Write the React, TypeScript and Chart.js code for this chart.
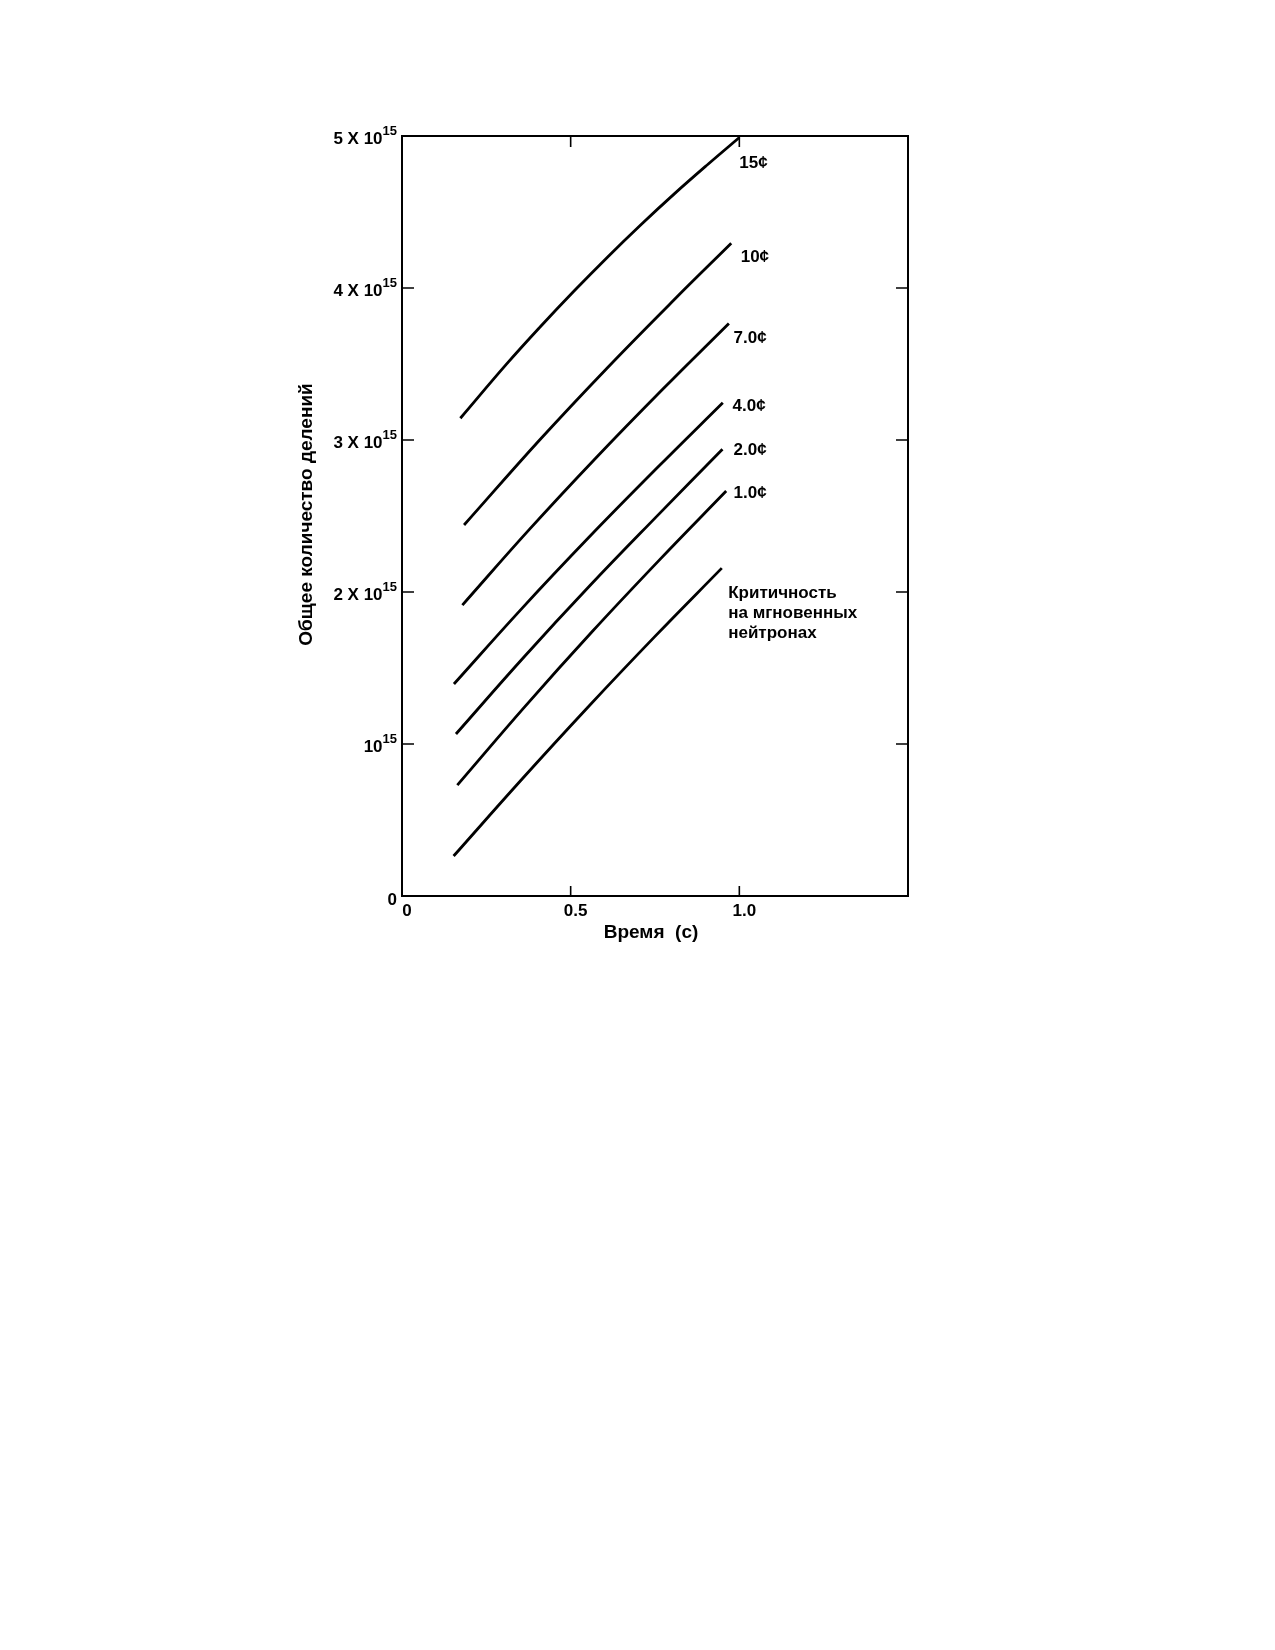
import React, { useEffect, useRef } from "react";
import { Chart, registerables } from "chart.js";

Chart.register(...registerables);

// Time (s) and total fissions (in units of 10^15) for each curve
const TIME_15 = [0.173, 0.311, 0.41, 0.51, 0.609, 0.709, 0.808, 0.908, 1.0];
const FISS_15 = [3.143, 3.502, 3.745, 3.98, 4.203, 4.418, 4.621, 4.816, 4.99];

const TIME_10 = [0.184, 0.408, 0.607, 0.806, 0.976];
const FISS_10 = [2.441, 3.0, 3.471, 3.921, 4.294];

const TIME_7 = [0.179, 0.377, 0.574, 0.772, 0.969];
const FISS_7 = [1.914, 2.41, 2.88, 3.332, 3.767];

const TIME_4 = [0.154, 0.353, 0.552, 0.752, 0.951];
const FISS_4 = [1.395, 1.886, 2.355, 2.807, 3.245];

const TIME_2 = [0.16, 0.359, 0.558, 0.758, 0.95];
const FISS_2 = [1.066, 1.566, 2.044, 2.504, 2.939];

const TIME_1 = [0.164, 0.363, 0.562, 0.762, 0.961];
const FISS_1 = [0.73, 1.243, 1.735, 2.208, 2.664];

const TIME_PROMPT = [0.153, 0.352, 0.551, 0.75, 0.948];
const FISS_PROMPT = [0.263, 0.76, 1.242, 1.708, 2.157];

const SERIES_NAMES = ["15¢", "10¢", "7.0¢", "4.0¢", "2.0¢", "1.0¢", "Критичность на мгновенных нейтронах"];
const SERIES_TIMES = [TIME_15, TIME_10, TIME_7, TIME_4, TIME_2, TIME_1, TIME_PROMPT];
const SERIES_FISS = [FISS_15, FISS_10, FISS_7, FISS_4, FISS_2, FISS_1, FISS_PROMPT];

// Curve labels: text and anchor in data units (time, fissions ×10^15)
const CURVE_LABELS = ["15¢", "10¢", "7.0¢", "4.0¢", "2.0¢", "1.0¢"];
const CURVE_LABEL_T = [1.0, 1.004, 0.983, 0.98, 0.983, 0.983];
const CURVE_LABEL_F = [4.82, 4.2, 3.67, 3.22, 2.93, 2.65];
const PROMPT_LINES = ["Критичность", "на мгновенных", "нейтронах"];
const PROMPT_LABEL_T = 0.967;
const PROMPT_LABEL_F = 1.99;

// Axis ticks
const X_TICKS = [0, 0.5, 1.0];
const X_TICK_LABELS = ["0", "0.5", "1.0"];
const X_TICK_MARKS = [0.5, 1.0];
const Y_TICKS = [0, 1, 2, 3, 4, 5];
const Y_TICK_MAIN = ["0", "10", "2 X 10", "3 X 10", "4 X 10", "5 X 10"];
const Y_TICK_EXP = ["", "15", "15", "15", "15", "15"];
const Y_TICK_MARKS = [1, 2, 3, 4];

const X_TITLE = "Время  (с)";
const Y_TITLE = "Общее количество делений";

const FONT = '"Liberation Sans", Arial, Helvetica, sans-serif';

const decorPlugin = {
  id: "decor",
  afterDraw(chart: any) {
    const { ctx, chartArea } = chart;
    const xs = chart.scales.x;
    const ys = chart.scales.y;
    const { left, right, top, bottom } = chartArea;
    ctx.save();
    ctx.strokeStyle = "#000";
    ctx.fillStyle = "#000";
    ctx.lineWidth = 2;
    ctx.strokeRect(left, top, right - left, bottom - top);

    // ticks (inward)
    ctx.lineWidth = 1.6;
    ctx.beginPath();
    for (const v of X_TICK_MARKS) {
      const px = xs.getPixelForValue(v);
      ctx.moveTo(px, bottom);
      ctx.lineTo(px, bottom - 10);
      ctx.moveTo(px, top);
      ctx.lineTo(px, top + 11);
    }
    for (const v of Y_TICK_MARKS) {
      const py = ys.getPixelForValue(v);
      ctx.moveTo(left, py);
      ctx.lineTo(left + 12, py);
      ctx.moveTo(right, py);
      ctx.lineTo(right - 12, py);
    }
    ctx.stroke();

    // y tick labels
    ctx.textBaseline = "middle";
    Y_TICKS.forEach((v, i) => {
      const py = ys.getPixelForValue(v);
      const rightEdge = left - 5;
      ctx.font = `bold 13px ${FONT}`;
      const ew = Y_TICK_EXP[i] ? ctx.measureText(Y_TICK_EXP[i]).width : 0;
      if (Y_TICK_EXP[i]) {
        ctx.textAlign = "right";
        ctx.fillText(Y_TICK_EXP[i], rightEdge, py - 5);
      }
      ctx.font = `bold 17px ${FONT}`;
      ctx.textAlign = "right";
      ctx.fillText(Y_TICK_MAIN[i], rightEdge - ew, py + (v === 0 ? 4 : 3));
    });

    // x tick labels
    ctx.font = `bold 17px ${FONT}`;
    ctx.textAlign = "center";
    X_TICKS.forEach((v, i) => {
      const px = xs.getPixelForValue(v);
      ctx.fillText(X_TICK_LABELS[i], px + 5, bottom + 15);
    });

    // axis titles
    ctx.font = `bold 19px ${FONT}`;
    ctx.fillText(X_TITLE, (xs.getPixelForValue(0.5) + xs.getPixelForValue(1.0)) / 2 - 4, bottom + 37);
    ctx.save();
    ctx.translate(left - 95, ys.getPixelForValue(2.51));
    ctx.rotate(-Math.PI / 2);
    ctx.textAlign = "center";
    ctx.fillText(Y_TITLE, 0, 0);
    ctx.restore();

    // curve labels
    ctx.font = `bold 17px ${FONT}`;
    ctx.textAlign = "left";
    CURVE_LABELS.forEach((t, i) => {
      ctx.fillText(t, xs.getPixelForValue(CURVE_LABEL_T[i]), ys.getPixelForValue(CURVE_LABEL_F[i]));
    });
    const px0 = xs.getPixelForValue(PROMPT_LABEL_T);
    const py0 = ys.getPixelForValue(PROMPT_LABEL_F);
    PROMPT_LINES.forEach((t, i) => {
      ctx.fillText(t, px0, py0 + i * 20);
    });
    ctx.restore();
  },
};

export default function App() {
  const ref = useRef<HTMLCanvasElement | null>(null);
  useEffect(() => {
    if (!ref.current) return;
    const datasets = SERIES_NAMES.map((name, i) => ({
      label: name,
      data: SERIES_TIMES[i].map((t, j) => ({ x: t, y: SERIES_FISS[i][j] })),
      borderColor: "#000",
      backgroundColor: "#000",
      borderWidth: 2.8,
      pointRadius: 0,
      tension: 0.4,
      fill: false,
      clip: false as any,
    }));
    const chart = new Chart(ref.current, {
      type: "line",
      data: { datasets },
      options: {
        animation: false,
        responsive: true,
        maintainAspectRatio: false,
        layout: { padding: { left: 402, right: 367, top: 136, bottom: 104 } },
        plugins: { legend: { display: false }, tooltip: { enabled: false } },
        scales: {
          x: { type: "linear", min: 0, max: 1.5, display: false },
          y: { type: "linear", min: 0, max: 5, display: false },
        },
      },
      plugins: [decorPlugin],
    });
    return () => chart.destroy();
  }, []);
  return (
    <div style={{ position: "absolute", left: 0, top: 0, width: 1275, height: 1000, background: "#fff" }}>
      <canvas ref={ref} />
    </div>
  );
}
